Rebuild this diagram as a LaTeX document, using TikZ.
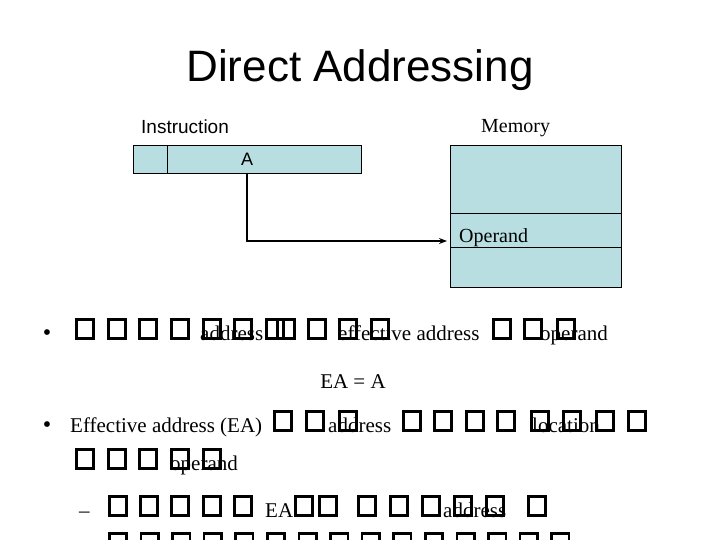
\documentclass[tikz,border=0pt]{standalone}
\usepackage{fontspec}
\setmainfont{Liberation Serif}
\setsansfont{Liberation Sans}
\usetikzlibrary{arrows.meta}

\definecolor{boxfill}{RGB}{185,222,226}

\tikzset{
    cell/.style={draw, fill=boxfill, line width=0.8pt, inner sep=0pt, outer sep=0pt},
    tofu/.style={draw, line width=2.6pt},
    link/.style={-{Stealth[length=8pt,width=6pt]}, line width=1.6pt},
    body/.style={anchor=base west, inner sep=0pt, font=\fontsize{21}{25}\selectfont},
    bullet/.style={anchor=base, inner sep=0pt, font=\fontsize{24}{28}\selectfont},
}

\begin{document}
\begin{tikzpicture}[x=1pt, y=-1pt]
    \useasboundingbox (0,0) rectangle (720,540);
    \clip (0,0) rectangle (720,540);

    \node[anchor=base, inner sep=0pt, font=\fontsize{44}{50}\selectfont\sffamily] (title) at (360,82) {Direct Addressing};

    % instruction word
    \node[anchor=base west, inner sep=0pt, font=\fontsize{19}{22}\selectfont\sffamily] (inslabel) at (141,134) {Instruction};
    \node[cell, minimum width=34pt, minimum height=28pt, anchor=north west] (opcode) at (133,145) {};
    \node[cell, minimum width=194pt, minimum height=28pt, anchor=west] (addr) at (opcode.east) {};
    \node[inner sep=0pt, font=\fontsize{18}{20}\selectfont\sffamily] (atext) at (247,159.5) {A};

    % memory
    \node[anchor=base west, inner sep=0pt, font=\fontsize{20}{24}\selectfont] (memlabel) at (481,133) {Memory};
    \node[cell, minimum width=171pt, minimum height=68pt, anchor=north west] (memtop) at (450,145) {};
    \node[cell, minimum width=171pt, minimum height=34pt, anchor=north] (operand) at (memtop.south) {};
    \node[cell, minimum width=171pt, minimum height=40pt, anchor=north] (membot) at (operand.south) {};
    \node[anchor=base west, inner sep=0pt, font=\fontsize{20}{24}\selectfont] (oplabel) at (459,243) {Operand};

    \coordinate (target) at (447,241);
    \draw[link] (atext |- addr.south) |- (target);

    % bullet text
    \node[bullet] (bull1) at (47,340) {•};
    \node[body] (addr1) at (200,340) {address};
    \node[body] (eff1) at (338,340) {effective address};
    \node[body] (opd1) at (540,340) {operand};

    \node[body, anchor=base] (eqn) at (353,388) {EA = A};

    \node[bullet] (bull2) at (47,432) {•};
    \node[body] (eff2) at (70,432) {Effective address (EA)};
    \node[body] (addr2) at (328,432) {address};
    \node[body] (loc2) at (532,432) {location};
    \node[body] (opd3) at (170,470) {operand};

    \node[body] (dash4) at (79,517) {–};
    \node[body] (ea4) at (265,517) {EA};
    \node[body] (addr4) at (443,517) {address};

    % missing glyphs
    \foreach \y/\xs in {340/{75,107,138,170,202,233,265,276,307,338,370,492,523,556},
                        432/{273,305,338,402,433,465,496,530,562,595,627},
                        470/{75,107,138,170,202},
                        517/{108,139,170,202,233,294,318,357,389,421,453,485,527},
                        554/{108,139.6,171.2,202.8,234.4,266,297.6,329.2,360.8,392.4,424,455.6,487.2,518.8,550.4}}
        \foreach \x in \xs
            \draw[tofu] (\x+1.3,\y-1.3) rectangle ++(17.4,-19.4);
\end{tikzpicture}
\end{document}
